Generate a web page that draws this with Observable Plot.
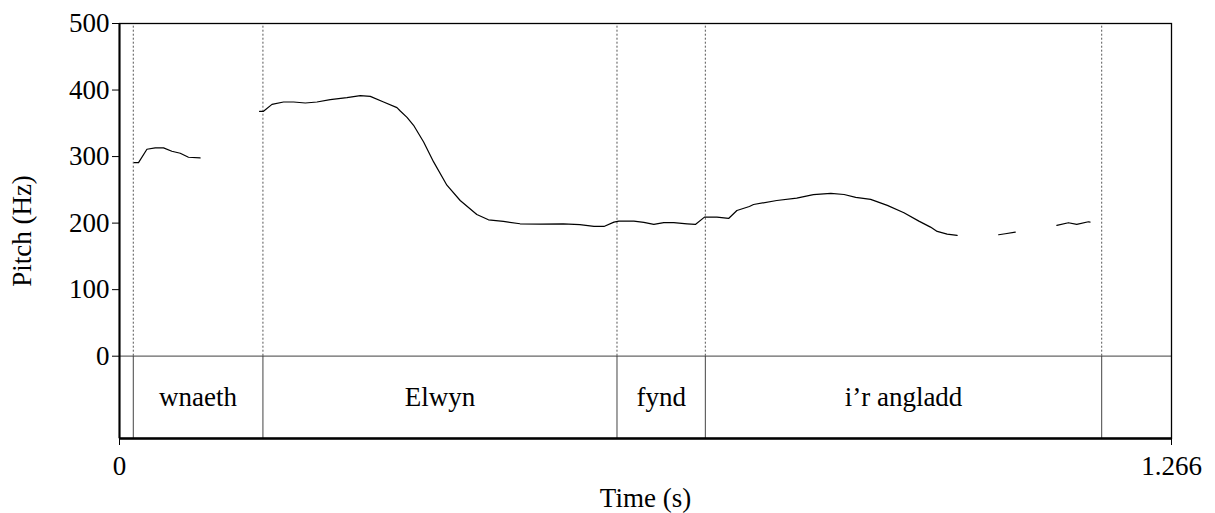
<!DOCTYPE html>
<html>
<head>
<meta charset="utf-8">
<script src="https://cdn.jsdelivr.net/npm/d3@7"></script>
<script src="https://cdn.jsdelivr.net/npm/@observablehq/plot@0.6"></script>
<style>
  html, body { margin: 0; padding: 0; background: #fff; }
  svg { font-family: "Liberation Serif", "DejaVu Serif", serif; }
</style>
</head>
<body>
<div id="chart"></div>
<script>
// ---- Data ----
const seg1Time  = [0.0177, 0.0229, 0.033, 0.043, 0.053, 0.063, 0.0731, 0.083, 0.097];
const seg1Pitch = [291, 291, 311, 313, 313, 308, 305, 299, 298];

const seg2Time  = [0.1685, 0.1733, 0.1835, 0.1974, 0.2095, 0.2236, 0.2376, 0.2536, 0.2737, 0.2898, 0.3018, 0.3178, 0.3339, 0.3379, 0.346, 0.3539, 0.366, 0.378, 0.394, 0.410, 0.430, 0.444, 0.462, 0.482, 0.507, 0.534, 0.554, 0.571, 0.583, 0.595, 0.601, 0.619, 0.631, 0.643, 0.655, 0.667, 0.683, 0.693, 0.704, 0.719, 0.733, 0.743, 0.758, 0.763, 0.791, 0.815, 0.835, 0.856, 0.872, 0.886, 0.904, 0.924, 0.944, 0.962, 0.976, 0.984, 0.996, 1.008];
const seg2Pitch = [368, 368, 378.5, 382, 382, 380.5, 382, 385.6, 388.6, 391.6, 390.5, 382, 373.5, 368.5, 359, 347, 322, 292, 257, 234, 213, 205, 202.6, 199, 198.5, 199, 197.6, 195, 195, 201.5, 203, 203, 201, 198, 200.6, 200.6, 199, 198, 209, 209, 207, 219, 225, 228, 234, 237.6, 242.7, 244.7, 243, 238.6, 235.6, 226.6, 215.6, 203, 194, 187.5, 183.5, 181.5];

const seg3Time  = [1.058, 1.066, 1.078];
const seg3Pitch = [182.5, 184, 186.5];

const seg4Time  = [1.128, 1.142, 1.152, 1.166, 1.168];
const seg4Pitch = [196.5, 200.6, 198, 202, 201.5];

const boundaries = [0.0166, 0.1726, 0.5987, 0.705, 1.182];
const wordStarts = [0.0166, 0.1726, 0.5987, 0.705];
const wordEnds   = [0.1726, 0.5987, 0.705, 1.182];
const wordLabels = ["wnaeth", "Elwyn", "fynd", "i’r angladd"];

const yTicks = [0, 100, 200, 300, 400, 500];
const xTicks = [0, 1.266];
const xTickLabels = ["0", "1.266"];
const duration = 1.266;

// ---- Build tables ----
const segs = [[seg1Time, seg1Pitch], [seg2Time, seg2Pitch], [seg3Time, seg3Pitch], [seg4Time, seg4Pitch]];
const pitch = segs.flatMap(([t, f], s) => t.map((ti, i) => ({t: ti, f: f[i], seg: s})));
const words = wordLabels.map((w, i) => ({start: wordStarts[i], end: wordEnds[i], mid: (wordStarts[i] + wordEnds[i]) / 2, label: w}));

const tierBottom = -123.7; // layout: tier area below the pitch panel
const tierMid = tierBottom / 2;
const fs = 27;

const chart = Plot.plot({
  width: 1215,
  height: 513,
  marginLeft: 119,
  marginRight: 44,
  marginTop: 23,
  marginBottom: 75,
  style: {fontFamily: "'Liberation Serif', 'DejaVu Serif', serif", fontSize: fs + "px", color: "black", background: "white"},
  x: {domain: [0, duration]},
  y: {domain: [tierBottom, 500]},
  marks: [
    // dotted boundaries in pitch panel
    Plot.ruleX(boundaries, {y1: 0, y2: 500, stroke: "#555", strokeWidth: 1, strokeDasharray: "2,2"}),
    // zero line / tier top
    Plot.ruleY([0], {stroke: "#666", strokeWidth: 1.3}),
    // tier boundaries
    Plot.ruleX(boundaries, {y1: tierBottom, y2: 0, stroke: "#444", strokeWidth: 1}),
    // pitch contour
    Plot.line(pitch, {x: "t", y: "f", z: "seg", stroke: "black", strokeWidth: 1.2}),
    // word labels
    Plot.text(words, {x: "mid", y: () => tierMid, text: "label", fontSize: fs, fill: "black", lineAnchor: "middle"}),
    // frame
    Plot.frame({stroke: "black", strokeWidth: 1.3}),
    Plot.ruleX([0], {stroke: "black", strokeWidth: 2}),
    Plot.ruleY([tierBottom], {stroke: "black", strokeWidth: 2.5}),
    // axes
    Plot.axisY(yTicks, {tickSize: 7, tickPadding: 3, label: null, fontSize: fs, tickFormat: d => String(d)}),
    Plot.axisX(xTicks, {tickSize: 7, tickPadding: 10, label: null, fontSize: fs, tickFormat: (d, i) => xTickLabels[i]}),
    // axis titles
    Plot.text(["Pitch (Hz)"], {frameAnchor: "left", y: () => (500 + tierBottom) / 2, dx: -97, rotate: -90, fontSize: fs, fill: "black", textAnchor: "middle", lineAnchor: "middle"}),
    Plot.text(["Time (s)"], {frameAnchor: "bottom", dy: 60, fontSize: fs, fill: "black", textAnchor: "middle", lineAnchor: "middle"})
  ]
});
document.getElementById("chart").appendChild(chart);
</script>
</body>
</html>
